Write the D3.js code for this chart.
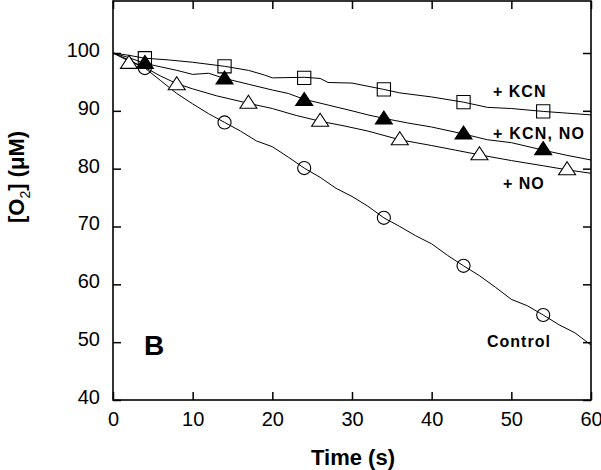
<!DOCTYPE html>
<html><head><meta charset="utf-8">
<script src="https://d3js.org/d3.v7.min.js"></script>
<style>body{margin:0;background:#fff}svg{display:block;font-family:"Liberation Sans",Arial,sans-serif}</style>
</head><body><svg id="c" width="601" height="470"></svg>
<script>
const xTicks = [0,10,20,30,40,50,60];
const yTicks = [40,50,60,70,80,90,100];

// continuous traces [t, O2]
const traceKCN = [[0,100],[2,99.6],[4,99.1],[7,98.8],[10,98.4],[14,97.7],[17,97.0],[19,96.2],[20,95.7],[24,95.8],[26,95.6],[27,94.9],[30,94.8],[34,93.7],[36,93.1],[40,92.4],[44,91.5],[47,90.6],[50,90.4],[54,89.9],[57,89.6],[60,89.3]];
const traceKCNNO = [[0,100],[2,99.2],[4,98.2],[6,97.6],[8,97.0],[10,96.3],[12,96.5],[14,95.6],[17,94.6],[20,93.6],[22,93.0],[24,92.0],[27,91.0],[30,90.0],[32,89.3],[34,88.7],[37,87.9],[40,87.2],[44,86.0],[47,85.0],[50,84.5],[54,83.2],[57,82.3],[60,81.5]];
const traceNO = [[0,100],[2,98.6],[4,97.5],[6,96.0],[8,94.7],[10,93.8],[13,92.6],[17,91.3],[20,90.4],[23,89.2],[26,88.2],[29,87.4],[32,86.5],[36,85.0],[40,84.0],[43,83.2],[46,82.4],[50,81.4],[54,80.5],[57,79.8],[60,79.2]];
const traceControl = [[0,100],[2,98.8],[4,97.4],[6,95.2],[8,93.0],[10,91.2],[12,89.5],[14,88.0],[16,86.5],[18,84.8],[20,83.8],[22,82.0],[24,80.1],[26,78.5],[28,76.6],[30,75.2],[32,73.5],[34,71.5],[36,70.0],[38,68.4],[40,67.0],[42,65.0],[44,63.2],[46,61.5],[48,59.5],[50,57.4],[52,56.3],[54,54.7],[56,53.0],[58,51.6],[60,49.5]];

// markers
const markKCN = [[4,99.1],[14,97.7],[24,95.7],[34,93.7],[44,91.5],[54,89.9]];
const markKCNNO = [[4,98.2],[14,95.5],[24,91.8],[34,88.6],[44,86.0],[54,83.3]];
const markNO = [[2,98.2],[8,94.5],[17,91.3],[26,88.2],[36,85.0],[46,82.4],[57,79.8]];
const markControl = [[4,97.4],[14,88.0],[24,80.1],[34,71.5],[44,63.2],[54,54.7]];

const svg = d3.select("#c");
const L=113, R=591, T=1, B=400;
const x = d3.scaleLinear().domain([0,60]).range([L,R]);
const y = d3.scaleLinear().domain([40,100]).range([B,53]);

svg.append("rect").attr("x",L).attr("y",T).attr("width",R-L).attr("height",B-T)
  .attr("fill","none").attr("stroke","#000").attr("stroke-width",1.6);

const tl = 8;
const styleTicks = g=>{g.select(".domain").remove();g.selectAll("line").attr("stroke-width",1.5);
  g.selectAll("text").attr("font-size",20).attr("font-family","Liberation Sans, Arial").attr("fill","#000");};
svg.append("g").attr("transform",`translate(0,${B})`)
  .call(d3.axisBottom(x).tickValues(xTicks).tickSize(-tl).tickPadding(12).tickFormat(d3.format("d")))
  .call(styleTicks);
svg.append("g").attr("transform",`translate(0,${T})`)
  .call(d3.axisTop(x).tickValues(xTicks).tickSize(-tl).tickFormat(""))
  .call(styleTicks);
svg.append("g").attr("transform",`translate(${L},0)`)
  .call(d3.axisLeft(y).tickValues(yTicks).tickSize(-tl).tickPadding(13).tickFormat(d3.format("d")))
  .call(styleTicks).call(g=>g.selectAll("text").attr("dy","0.17em"));
svg.append("g").attr("transform",`translate(${R},0)`)
  .call(d3.axisRight(y).tickValues(yTicks).tickSize(-tl).tickFormat(""))
  .call(styleTicks);

const line = d3.line().x(d=>x(d[0])).y(d=>y(d[1]));
const plot = svg.append("g");
[traceKCN,traceKCNNO,traceNO,traceControl].forEach(t=>{
  plot.append("path").datum(t).attr("d",line).attr("fill","none").attr("stroke","#000").attr("stroke-width",1);
});

const tri = "M0,-8L8.5,5L-8.5,5Z";
function markers(data, d, fill){
  plot.selectAll(null).data(data).enter().append("path")
    .attr("transform",p=>`translate(${x(p[0])},${y(p[1])})`)
    .attr("d",d).attr("fill",fill).attr("stroke","#000").attr("stroke-width",1.1);
}
markers(markKCN, d3.symbol().type(d3.symbolSquare).size(175)(), "none");
markers(markNO, tri, "#fff");
markers(markKCNNO, tri, "#000");
markers(markControl, d3.symbol().type(d3.symbolCircle).size(135)(), "none");

const lab = (t,xx,yy,fs,ls)=>svg.append("text").attr("x",xx).attr("y",yy).attr("font-size",fs)
  .attr("font-weight","bold").attr("letter-spacing",ls).text(t);
lab("+ KCN",493,97,16,1);
lab("+ KCN, NO",493,139,16,1.2);
lab("+ NO",503,189,16,1);
lab("Control",487,347,16,1);
lab("B",144,355,28,0);

svg.append("text").attr("x",353).attr("y",465).attr("text-anchor","middle").attr("font-size",22).attr("font-weight","bold").text("Time (s)");
const yl = svg.append("text").attr("transform","translate(24,177) rotate(-90)").attr("text-anchor","middle").attr("font-size",22).attr("font-weight","bold");
yl.append("tspan").text("[O");
yl.append("tspan").attr("font-size",14).attr("font-weight","normal").attr("dy",6).text("2");
yl.append("tspan").attr("dy",-6).text("] (\u03bcM)");
</script></body></html>
